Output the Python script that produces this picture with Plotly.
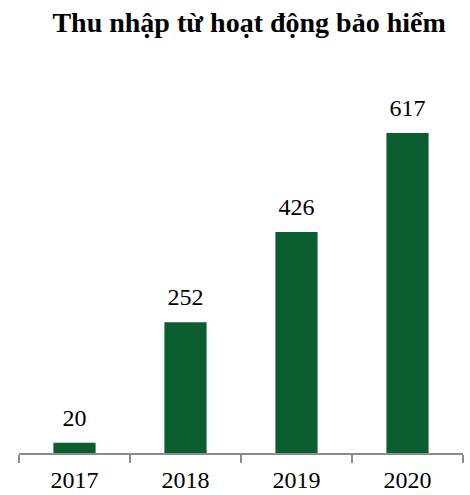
import plotly.graph_objects as go

years = ["2017", "2018", "2019", "2020"]
values = [20, 252, 426, 617]
labels = ["20", "252", "426", "617"]

fig = go.Figure()
fig.add_trace(go.Bar(
    x=years, y=values,
    marker=dict(color="#0b5e30", line=dict(width=0)),
    width=0.38, hoverinfo="skip",
))
fig.add_trace(go.Scatter(
    x=years, y=values, text=labels, mode="markers+text", textposition="top center",
    marker=dict(size=16, opacity=0, color="white"),
    textfont=dict(family="Liberation Serif", size=24, color="#000000"),
    cliponaxis=False, hoverinfo="skip",
))
fig.update_layout(
    width=470, height=495,
    margin=dict(l=19, r=7, t=90, b=42),
    paper_bgcolor="white", plot_bgcolor="white",
    showlegend=False,
    title=dict(text="<b>Thu nhập từ hoạt động bảo hiểm</b>", x=0.53, xanchor="center",
               y=0.955, yanchor="middle",
               font=dict(family="Liberation Serif", size=28, color="#000000")),
    xaxis=dict(type="category", range=[-0.5, 3.5], showline=True, linecolor="#8c8c8c", linewidth=1.5,
               ticks="outside", tickson="boundaries", ticklen=8, tickcolor="#8c8c8c", tickwidth=1.5,
               showgrid=False, ticklabelstandoff=4, automargin=False,
               tickfont=dict(family="Liberation Serif", size=24, color="#000000")),
    yaxis=dict(range=[0, 700], showticklabels=False, showline=False, zeroline=False,
               showgrid=False, ticks="", automargin=False),
)
fig.write_html("out.html")
